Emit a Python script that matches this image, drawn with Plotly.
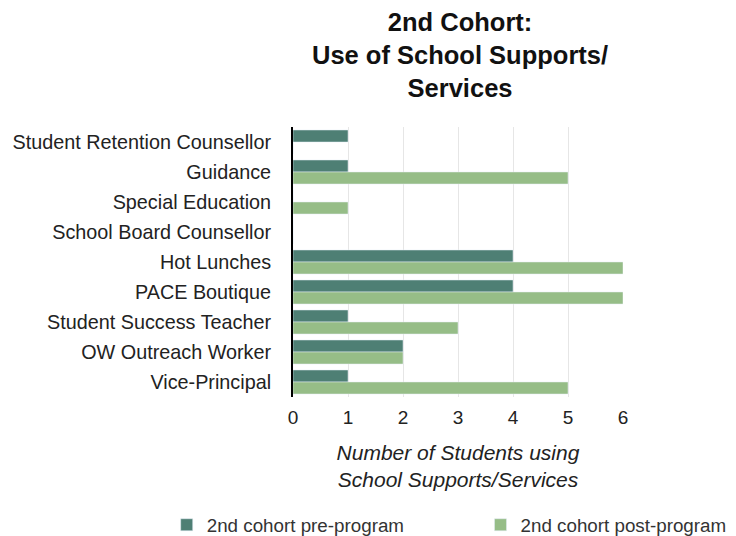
import plotly.graph_objects as go

categories = ["Student Retention Counsellor", "Guidance", "Special Education",
              "School Board Counsellor", "Hot Lunches", "PACE Boutique",
              "Student Success Teacher", "OW Outreach Worker", "Vice-Principal"]
pre_program = [1, 1, 0, 0, 4, 4, 1, 2, 1]
post_program = [0, 5, 1, 0, 6, 6, 3, 2, 5]
x_ticks = [0, 1, 2, 3, 4, 5, 6]
title_text = "<b>2nd Cohort:<br>Use of School Supports/<br>Services</b>"
x_title = "<i>Number of Students using<br>School Supports/Services</i>"

FONT = "Liberation Sans, Arial, Helvetica, sans-serif"

# the page body adds an 8px offset, so the figure is 8px smaller
W, H = 728, 528
L, R, T, B = 285, 113, 119, 139
PH = H - T - B
PW = W - L - R

fig = go.Figure()
fig.add_trace(go.Bar(y=categories, x=pre_program, orientation="h",
                     name="2nd cohort pre-program", marker_color="#4e7f74",
                     legend="legend"))
fig.add_trace(go.Bar(y=categories, x=post_program, orientation="h",
                     name="2nd cohort post-program", marker_color="#96bd87",
                     legend="legend2"))

legend_font = dict(family=FONT, size=18.8, color="#333333")
legend_y = (H - B - 517) / PH

fig.update_layout(
    width=W, height=H,
    margin=dict(l=L, r=R, t=T, b=B, autoexpand=False),
    paper_bgcolor="white", plot_bgcolor="white",
    font=dict(family=FONT, size=20, color="#222222"),
    barmode="group", bargap=0.2, bargroupgap=0,
    showlegend=True,
    legend=dict(orientation="h", xref="paper", x=(158.7 - L) / PW, xanchor="left",
                yref="paper", y=legend_y, yanchor="middle", font=legend_font),
    legend2=dict(orientation="h", xref="paper", x=(472.5 - L) / PW, xanchor="left",
                 yref="paper", y=legend_y, yanchor="middle", font=legend_font),
    annotations=[dict(text=title_text, xref="paper", yref="paper",
                      x=0.506, y=(H - B - 47) / PH, xanchor="center", yanchor="middle",
                      showarrow=False,
                      font=dict(family=FONT, size=25.5, color="#111111"))],
)
fig.update_xaxes(range=[0, 6], tickvals=x_ticks, showgrid=True, gridcolor="#e6e6e6",
                 gridwidth=1, zeroline=False, showline=False, automargin=False,
                 ticks="outside", ticklen=3, tickcolor="rgba(0,0,0,0)",
                 tickfont=dict(size=19),
                 title=dict(text=x_title,
                            font=dict(family=FONT, size=21, color="#222222"), standoff=18))
fig.update_yaxes(autorange="reversed", showgrid=False, zeroline=False, automargin=False,
                 showline=True, linecolor="#000000", linewidth=2,
                 ticks="", ticklabelstandoff=16, tickfont=dict(size=19.8))

fig.write_html("out.html")
